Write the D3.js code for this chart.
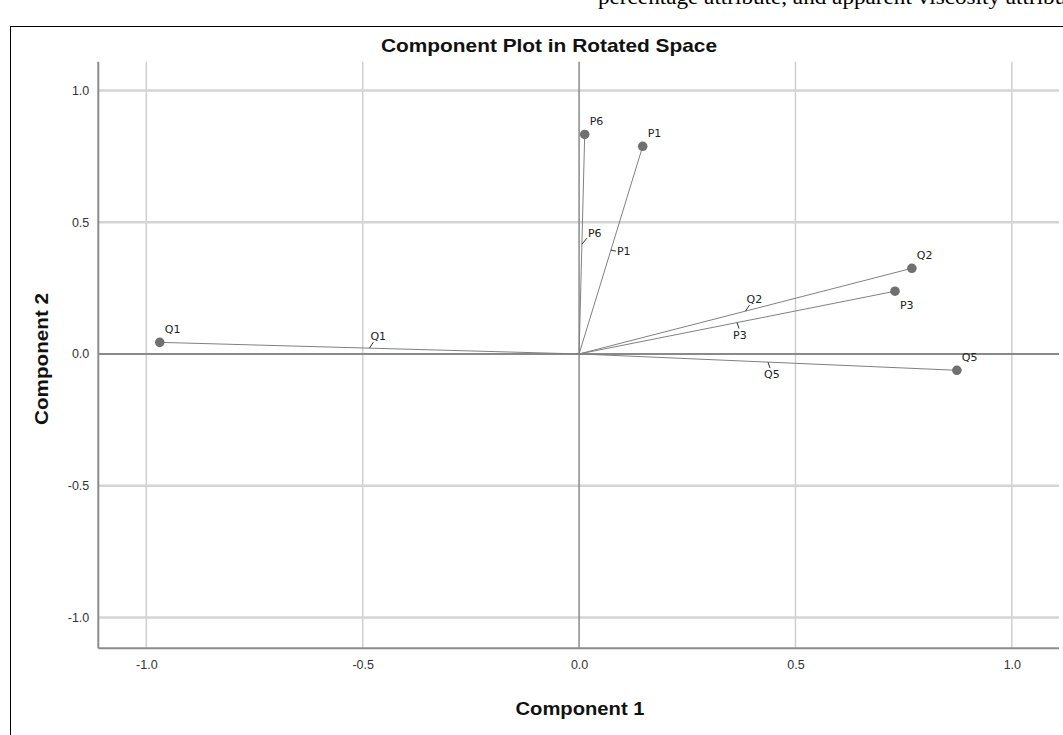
<!DOCTYPE html>
<html><head><meta charset="utf-8">
<script src="https://cdn.jsdelivr.net/npm/d3@7"></script>
<style>html,body{margin:0;padding:0;background:#fff;overflow:hidden}</style>
</head><body>
<script>
const names = ["P6","P1","Q2","P3","Q5","Q1"];
const comp1 = [0.013, 0.147, 0.769, 0.730, 0.873, -0.969];
const comp2 = [0.833, 0.788, 0.325, 0.238, -0.062, 0.044];
const endSide = ["above","above","above","below","above","above"];
const midSide = ["upright","right","up","down","down","up"];
const ticks = [-1.0, -0.5, 0.0, 0.5, 1.0];
const title = "Component Plot in Rotated Space";
const xTitle = "Component 1";
const yTitle = "Component 2";
const topText = "percentage attribute, and apparent viscosity attribute";

const W = 1063, H = 735;
const svg = d3.select("body").append("svg").attr("width", W).attr("height", H)
  .style("font-family", "Liberation Sans, Arial, sans-serif");

// top clipped document text
svg.append("text").attr("x", 598).attr("y", 4).attr("font-family", "Liberation Serif, Times New Roman, serif")
  .attr("font-size", 21).attr("fill", "#000")
  .attr("textLength", 485).attr("lengthAdjust", "spacingAndGlyphs").text(topText);

// outer frame
svg.append("rect").attr("x", 10.5).attr("y", 26.5).attr("width", 1100).attr("height", 800)
  .attr("fill", "none").attr("stroke", "#000").attr("stroke-width", 1);

const x = d3.scaleLinear().domain([-1.111, 1.109]).range([98.3, 1059]);
const y = d3.scaleLinear().domain([-1.117, 1.109]).range([648.3, 61.7]);

const g = svg.append("g");

// gridlines
g.selectAll(".vg").data(ticks.filter(t => t !== 0)).enter().append("line")
  .attr("x1", d => x(d)).attr("x2", d => x(d)).attr("y1", y.range()[1]).attr("y2", y.range()[0])
  .attr("stroke", "#cfcfcf").attr("stroke-width", 1.5);
g.selectAll(".hg").data(ticks.filter(t => t !== 0)).enter().append("line")
  .attr("y1", d => y(d)).attr("y2", d => y(d)).attr("x1", x.range()[0]).attr("x2", x.range()[1])
  .attr("stroke", "#d4d4d4").attr("stroke-width", 2.5);
// zero lines
g.append("line").attr("x1", x(0)).attr("x2", x(0)).attr("y1", y.range()[1]).attr("y2", y.range()[0])
  .attr("stroke", "#8a8a8a").attr("stroke-width", 1.5);
g.append("line").attr("y1", y(0)).attr("y2", y(0)).attr("x1", x.range()[0]).attr("x2", x.range()[1])
  .attr("stroke", "#8a8a8a").attr("stroke-width", 2);

// axes
const fmt = d => d3.format(".1f")(d).replace("\u2212", "-");
const xAxis = d3.axisBottom(x).tickValues(ticks).tickSize(0).tickPadding(12).tickFormat(fmt);
const yAxis = d3.axisLeft(y).tickValues(ticks).tickSize(0).tickPadding(9).tickFormat(fmt);
const ax = svg.append("g").attr("transform", `translate(0,${y.range()[0]})`).call(xAxis);
const ay = svg.append("g").attr("transform", `translate(${x.range()[0]},0)`).call(yAxis);
[ax, ay].forEach(a => {
  a.select(".domain").attr("stroke", "#8c8c8c").attr("stroke-width", 2);
  a.selectAll("text").attr("font-size", 12.5).attr("fill", "#333").attr("font-family", "Liberation Sans, Arial, sans-serif");
});
ay.select(".domain").attr("d", `M0,${y.range()[1]}V${y.range()[0]}`);
ax.select(".domain").attr("d", `M${x.range()[0]},0H${x.range()[1]}`);

// data
const data = names.map((n, i) => ({ n, a: comp1[i], b: comp2[i], es: endSide[i], ms: midSide[i] }));

g.selectAll(".vec").data(data).enter().append("line")
  .attr("x1", x(0)).attr("y1", y(0)).attr("x2", d => x(d.a)).attr("y2", d => y(d.b))
  .attr("stroke", "#808080").attr("stroke-width", 1);

g.selectAll(".pt").data(data).enter().append("circle")
  .attr("cx", d => x(d.a)).attr("cy", d => y(d.b)).attr("r", 4.8).attr("fill", "#707070");

const lblFont = "DejaVu Sans, Verdana, sans-serif";
g.selectAll(".el").data(data).enter().append("text")
  .attr("x", d => x(d.a) + 5).attr("y", d => y(d.b) + (d.es === "above" ? -9 : 18))
  .attr("font-size", 11).attr("font-family", lblFont).attr("fill", "#222").text(d => d.n);

// midpoint labels with leader
const off = {
  upright: { lx: 5, ly: -6, tx: 6, ty: -7 },
  right:   { lx: 5, ly: 1,  tx: 6, ty: 5 },
  up:      { lx: 4, ly: -6, tx: 1, ty: -8 },
  down:    { lx: 2, ly: 6,  tx: -4, ty: 16 }
};
data.forEach(d => {
  const mx = x(d.a / 2), my = y(d.b / 2), o = off[d.ms];
  g.append("line").attr("x1", mx).attr("y1", my).attr("x2", mx + o.lx).attr("y2", my + o.ly)
    .attr("stroke", "#333").attr("stroke-width", 1);
  g.append("text").attr("x", mx + o.tx).attr("y", my + o.ty).attr("font-size", 11)
    .attr("font-family", lblFont).attr("fill", "#222").text(d.n);
});

// titles
svg.append("text").attr("x", 549).attr("y", 52).attr("text-anchor", "middle")
  .attr("font-size", 19).attr("font-weight", "bold").attr("fill", "#111")
  .attr("textLength", 336).attr("lengthAdjust", "spacingAndGlyphs").text(title);
svg.append("text").attr("x", 580).attr("y", 715).attr("text-anchor", "middle")
  .attr("font-size", 19).attr("font-weight", "bold").attr("fill", "#111")
  .attr("textLength", 129).attr("lengthAdjust", "spacingAndGlyphs").text(xTitle);
svg.append("text").attr("transform", "translate(48,359) rotate(-90)").attr("text-anchor", "middle")
  .attr("font-size", 19).attr("font-weight", "bold").attr("fill", "#111")
  .attr("textLength", 132).attr("lengthAdjust", "spacingAndGlyphs").text(yTitle);
</script>
</body></html>
